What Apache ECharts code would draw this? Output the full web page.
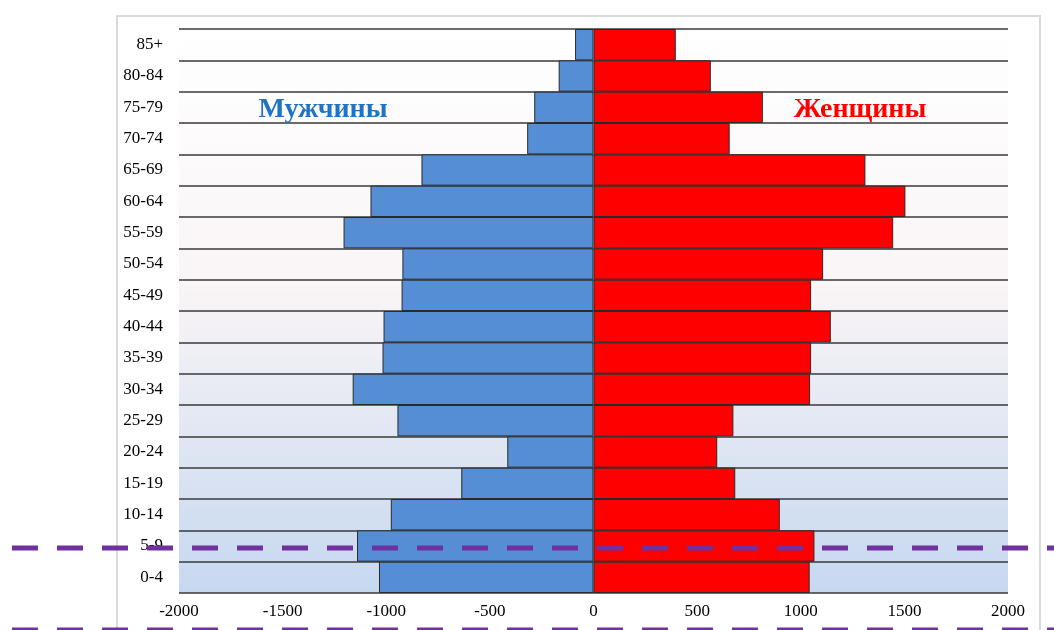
<!DOCTYPE html>
<html lang="ru">
<head>
    <meta charset="utf-8">
    <title>Половозрастная пирамида</title>
    <script src="https://cdn.jsdelivr.net/npm/echarts@6/dist/echarts.min.js"></script>
    <style>
        html, body { margin: 0; padding: 0; background: #fff; }
        #chart { width: 1054px; height: 630px; }
    </style>
</head>
<body>
<div id="chart"></div>
<script type="text/javascript">
    // age groups, bottom to top
    var ageGroups = ['0-4', '5-9', '10-14', '15-19', '20-24', '25-29', '30-34', '35-39', '40-44',
        '45-49', '50-54', '55-59', '60-64', '65-69', '70-74', '75-79', '80-84', '85+'];
    var menValues = [1035, 1141, 978, 638, 416, 946, 1162, 1018, 1013,
        926, 922, 1206, 1076, 830, 320, 286, 168, 89];
    var womenValues = [1043, 1066, 899, 684, 597, 675, 1045, 1050, 1145,
        1050, 1108, 1446, 1505, 1312, 657, 817, 566, 397];
    var axisTicks = [-2000, -1500, -1000, -500, 0, 500, 1000, 1500, 2000];

    var serif = '"Liberation Serif", "DejaVu Serif", serif';

    var chart = echarts.init(document.getElementById('chart'));

    var menNegative = [];
    for (var i = 0; i < menValues.length; i++) {
        menNegative.push(-menValues[i]);
    }

    chart.setOption({
        animation: false,
        grid: {
            left: 179,
            right: 46,
            top: 29,
            bottom: 37,
            show: true,
            borderWidth: 0,
            backgroundColor: new echarts.graphic.LinearGradient(0, 0, 0, 1, [
                { offset: 0, color: '#ffffff' },
                { offset: 0.45, color: '#faf5f6' },
                { offset: 1, color: '#c6d8f0' }
            ])
        },
        xAxis: {
            type: 'value',
            min: axisTicks[0],
            max: axisTicks[axisTicks.length - 1],
            interval: 500,
            axisLine: { show: false },
            axisTick: { show: false },
            splitLine: { show: false },
            axisLabel: {
                color: '#000',
                fontFamily: serif,
                fontSize: 17,
                margin: 10,
                formatter: function (v) { return String(v); }
            }
        },
        yAxis: {
            type: 'category',
            data: ageGroups,
            boundaryGap: true,
            axisLine: { show: false },
            axisTick: { show: false },
            splitLine: {
                show: true,
                lineStyle: { color: '#3a3a3a', width: 1.5 }
            },
            axisLabel: {
                color: '#000',
                fontFamily: serif,
                fontSize: 17,
                margin: 16
            }
        },
        series: [
            {
                name: 'Мужчины',
                type: 'bar',
                stack: 'total',
                barCategoryGap: 0,
                data: menNegative,
                itemStyle: { color: '#558ed5', borderColor: '#2a2a2a', borderWidth: 1 }
            },
            {
                name: 'Женщины',
                type: 'bar',
                stack: 'total',
                barCategoryGap: 0,
                data: womenValues,
                itemStyle: { color: '#ff0000', borderColor: '#2a2a2a', borderWidth: 1 }
            }
        ],
        graphic: [
            {
                type: 'rect',
                z: -1,
                shape: { x: 117, y: 16, width: 923, height: 700 },
                style: { fill: 'none', stroke: '#d9d9d9', lineWidth: 2 }
            },
            {
                type: 'text',
                z: 100,
                x: 323,
                y: 110,
                style: {
                    text: 'Мужчины',
                    fill: '#1f73c2',
                    font: 'bold 28px ' + serif,
                    align: 'center',
                    verticalAlign: 'middle'
                }
            },
            {
                type: 'text',
                z: 100,
                x: 860,
                y: 110,
                style: {
                    text: 'Женщины',
                    fill: '#ff0000',
                    font: 'bold 28px ' + serif,
                    align: 'center',
                    verticalAlign: 'middle'
                }
            },
            {
                type: 'line',
                z: 200,
                shape: { x1: 12, y1: 548, x2: 1054, y2: 548 },
                style: { stroke: '#7030a0', lineWidth: 5, lineDash: [26, 19] }
            },
            {
                type: 'line',
                z: 200,
                shape: { x1: 12, y1: 630, x2: 1054, y2: 630 },
                style: { stroke: '#7030a0', lineWidth: 5, lineDash: [26, 19] }
            }
        ]
    });
</script>
</body>
</html>
